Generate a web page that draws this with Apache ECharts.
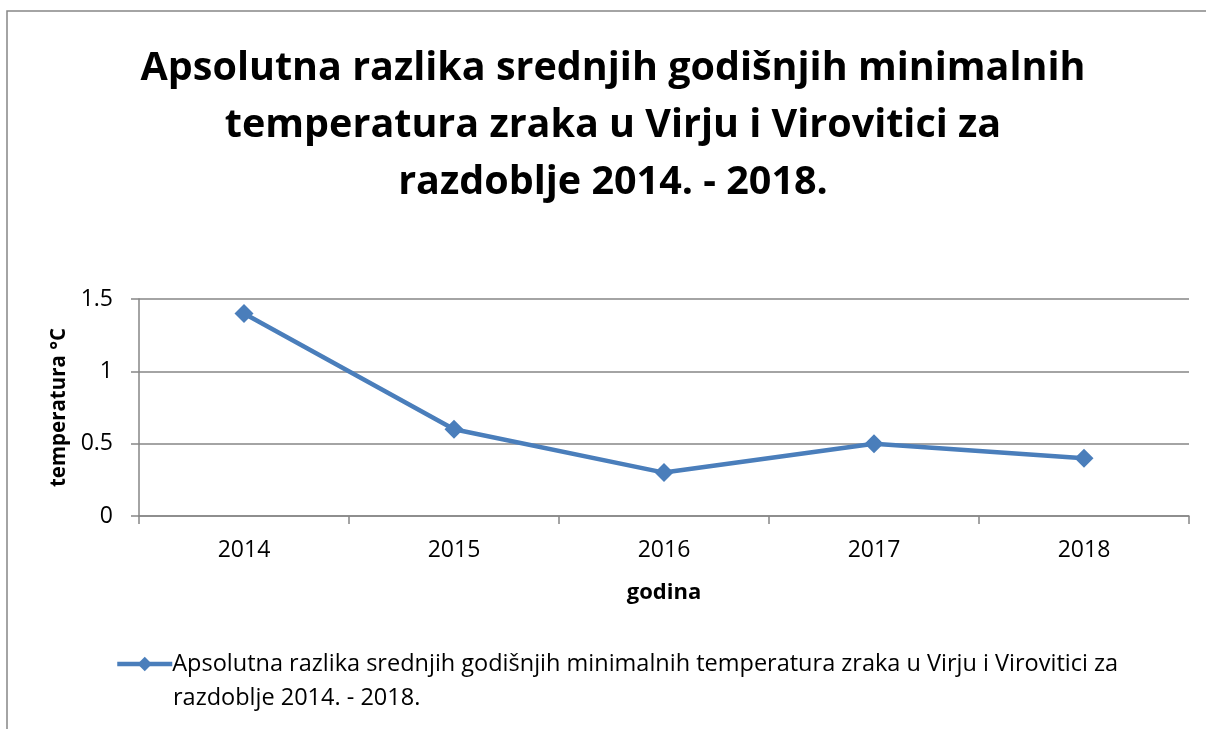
<!DOCTYPE html>
<html>
<head>
    <meta charset="utf-8">
    <title></title>
    <style type="text/css">
        html, body { margin: 0; padding: 0; background: #fff; }
        #main { width: 1206px; height: 729px; }
    </style>
</head>
<body>
    <div id="main"></div>
</body>
<script src="https://cdn.jsdelivr.net/npm/echarts@6/dist/echarts.min.js"></script>
<script type="text/javascript">
    var titleText = 'Apsolutna razlika srednjih godišnjih minimalnih\ntemperatura zraka u Virju i Virovitici za\nrazdoblje 2014. - 2018.';
    var seriesName = 'Apsolutna razlika srednjih godišnjih minimalnih temperatura zraka u Virju i Virovitici za razdoblje 2014. - 2018.';
    var legendLine1 = 'Apsolutna razlika srednjih godišnjih minimalnih temperatura zraka u Virju i Virovitici za';
    var legendLine2 = 'razdoblje 2014. - 2018.';
    var years = ['2014', '2015', '2016', '2017', '2018'];
    var values = [1.4, 0.6, 0.3, 0.5, 0.4];

    var font = 'Open Sans';
    var gray = '#868686';
    var blue = '#4a7ebb';

    var option = {
        backgroundColor: '#FFFFFF',
        animation: false,
        title: {
            text: titleText,
            left: 608,
            top: 35,
            textAlign: 'center',
            textStyle: {
                fontFamily: font,
                fontWeight: 'bold',
                fontSize: 39.5,
                lineHeight: 57,
                color: '#000'
            }
        },
        grid: {
            left: 139,
            right: 17,
            top: 299,
            bottom: 213
        },
        legend: {
            left: 110,
            top: 647,
            itemWidth: 55,
            itemHeight: 18,
            itemGap: 0,
            formatter: function () { return legendLine1; },
            lineStyle: { width: 4.5 },
            textStyle: { fontFamily: font, fontSize: 23.5, color: '#000', padding: [0, 0, 0, -5] },
            data: [seriesName]
        },
        graphic: [
            {
                type: 'rect',
                shape: { x: 7, y: 11, width: 1250, height: 800 },
                style: { fill: 'none', stroke: gray, lineWidth: 1.5 },
                silent: true
            },
            {
                type: 'text',
                left: 173,
                top: 686,
                style: { text: legendLine2, font: '23.5px "Open Sans"', fill: '#000' }
            }
        ],
        xAxis: {
            type: 'category',
            data: years,
            boundaryGap: true,
            name: 'godina',
            nameLocation: 'middle',
            nameGap: 66,
            nameTextStyle: { fontFamily: font, fontWeight: 'bold', fontSize: 22, color: '#000' },
            axisLine: { lineStyle: { color: gray, width: 1.5 } },
            axisTick: { show: true, length: 8, alignWithLabel: false, lineStyle: { color: gray, width: 1.5 } },
            axisLabel: { fontFamily: font, fontSize: 23, color: '#000', margin: 23 },
            splitLine: { show: false }
        },
        yAxis: {
            type: 'value',
            min: 0,
            max: 1.5,
            interval: 0.5,
            name: 'temperatura °C',
            nameLocation: 'middle',
            nameGap: 66,
            nameRotate: 90,
            nameTextStyle: { fontFamily: font, fontWeight: 'bold', fontSize: 20.5, color: '#000' },
            axisLine: { show: true, lineStyle: { color: gray, width: 1.5 } },
            axisTick: { show: true, length: 8, lineStyle: { color: gray, width: 1.5 } },
            axisLabel: { fontFamily: font, fontSize: 23, color: '#000', margin: 26 },
            splitLine: { show: true, lineStyle: { color: gray, width: 1.5 } }
        },
        series: [{
            name: seriesName,
            type: 'line',
            data: values,
            symbol: 'diamond',
            symbolSize: 19,
            lineStyle: { color: blue, width: 4.5 },
            itemStyle: { color: blue },
            emphasis: { disabled: true }
        }]
    };

    var myChart = echarts.init(document.getElementById('main'));
    myChart.setOption(option);
</script>
</html>
